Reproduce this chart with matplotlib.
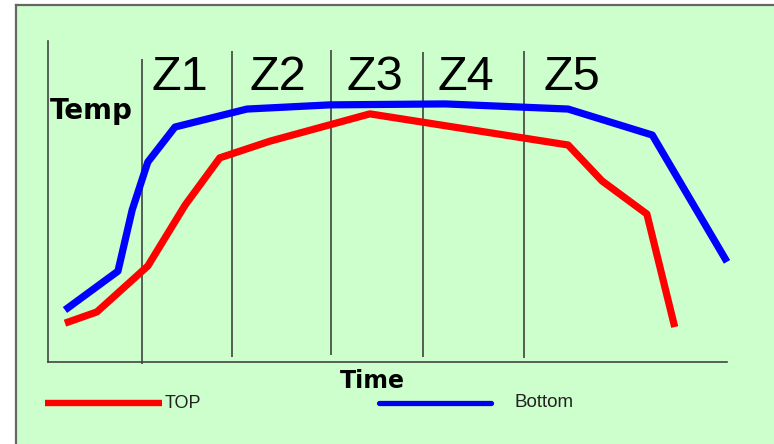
import matplotlib
matplotlib.use("Agg")
import matplotlib.pyplot as plt
from matplotlib.patches import Rectangle
from matplotlib.lines import Line2D

# ── Daten (Zeit / Temperatur, willkürliche Einheiten 0..100) ──────────
time_bottom = [2.5, 10.3, 12.4, 14.7, 18.7, 29.3, 41.5, 58.5, 76.6, 89.0, 100.0]
temp_bottom = [16.2, 28.3, 47.4, 62.3, 73.2, 78.8, 80.1, 80.4, 78.8, 70.7, 31.2]

time_top = [2.5, 7.2, 14.7, 20.2, 25.3, 32.7, 47.4, 76.6, 81.6, 88.2, 92.3]
temp_top = [12.1, 15.6, 29.9, 48.9, 63.6, 68.8, 77.3, 67.6, 56.4, 46.1, 10.9]

zone_edges = [13.8, 27.1, 41.7, 55.2, 70.1]
zone_tops = [94.4, 96.9, 97.2, 96.6, 96.9]
zone_bottoms = [-0.6, 1.6, 2.2, 1.6, 1.2]
zone_labels = ["Z1", "Z2", "Z3", "Z4", "Z5"]
zone_label_x = [15.3, 29.7, 43.9, 57.4, 73.0]

BG = "#ccffcc"
W, H = 774, 444

fig = plt.figure(figsize=(W / 100, H / 100), dpi=100, facecolor="white")

# ── Hintergrund mit Rahmen ────────────────────────────────────────────
fig.add_artist(Rectangle((16 / W, 0), 1 - 16 / W, 1 - 5 / H,
                         transform=fig.transFigure, facecolor=BG,
                         edgecolor="none", zorder=0))
fig.add_artist(Line2D([16 / W, 16 / W], [0, 1 - 5 / H], transform=fig.transFigure,
                      color="#666666", lw=1.6))
fig.add_artist(Line2D([16 / W, 1], [1 - 5 / H, 1 - 5 / H], transform=fig.transFigure,
                      color="#666666", lw=1.6))

# ── Achsen ────────────────────────────────────────────────────────────
ax = fig.add_axes([48 / W, 1 - 362 / H, (727 - 48) / W, (362 - 41) / H])
ax.set_facecolor("none")
ax.set_xlim(0, 100)
ax.set_ylim(0, 100)
ax.set_xticks([])
ax.set_yticks([])
for side in ["top", "right"]:
    ax.spines[side].set_visible(False)
for side in ["left", "bottom"]:
    ax.spines[side].set_color("#444444")
    ax.spines[side].set_linewidth(1.2)

# Zonengrenzen
ax.vlines(zone_edges, zone_bottoms, zone_tops, colors="#333333",
          linewidth=1.1, clip_on=False)
for lbl, x in zip(zone_labels, zone_label_x):
    ax.text(x, 84.7, lbl, ha="left", va="baseline", fontsize=35,
            family="Liberation Sans", color="black")

# Kurven
ax.plot(time_bottom, temp_bottom, color="#0000ff", lw=5.2,
        solid_joinstyle="round", solid_capstyle="butt", clip_on=False)
ax.plot(time_top, temp_top, color="#ff0000", lw=5.2,
        solid_joinstyle="round", solid_capstyle="butt", clip_on=False)

# ── Beschriftungen ────────────────────────────────────────────────────
fig.text(50 / W, 1 - 119 / H, "Temp", ha="left", va="baseline",
         fontsize=20, fontweight="bold", family="DejaVu Sans")
fig.text(340 / W, 1 - 388 / H, "Time", ha="left", va="baseline",
         fontsize=17, fontweight="bold", family="DejaVu Sans")

# ── Legende ───────────────────────────────────────────────────────────
fig.add_artist(Line2D([45 / W, 162 / W], [1 - 403 / H] * 2, transform=fig.transFigure,
                      color="#ff0000", lw=4.6, solid_capstyle="butt"))
fig.text(165 / W, 1 - 403 / H, "TOP", ha="left", va="center",
         fontsize=13, family="Liberation Sans", color="#222222")
fig.add_artist(Line2D([379 / W, 491 / W], [1 - 403 / H] * 2, transform=fig.transFigure,
                      color="#0000ee", lw=3.8, solid_capstyle="round"))
fig.text(514 / W, 1 - 402 / H, "Bottom", ha="left", va="center",
         fontsize=13.5, family="Liberation Sans", color="#222222")

fig.savefig("out.png", dpi=100, facecolor=fig.get_facecolor())
